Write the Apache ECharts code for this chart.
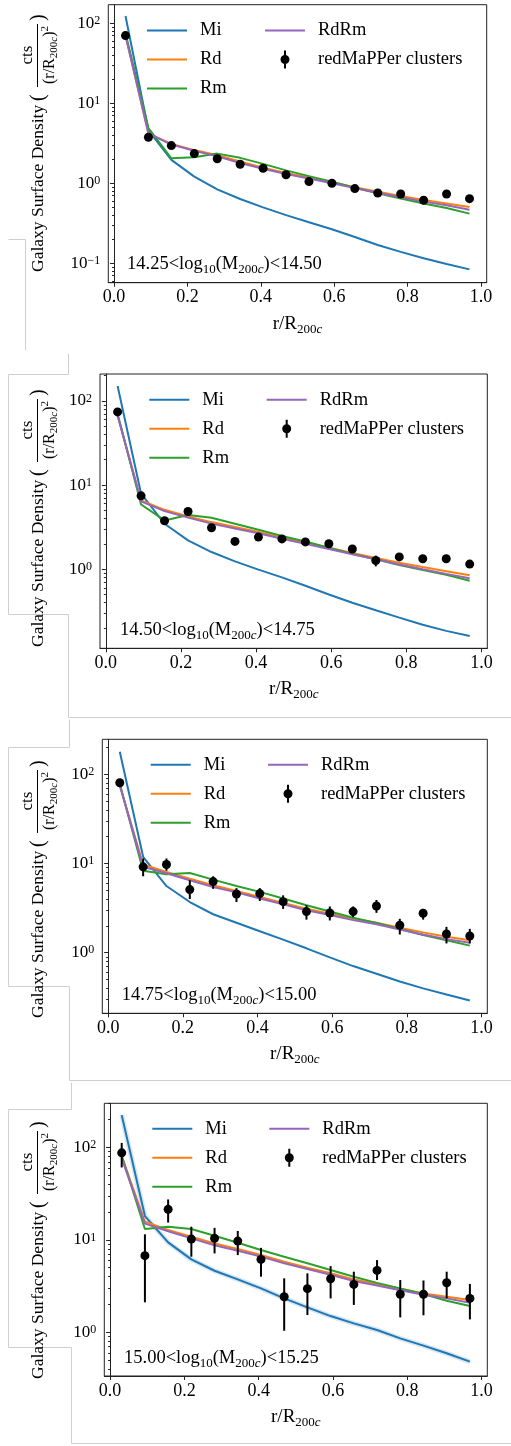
<!DOCTYPE html>
<html><head><meta charset="utf-8">
<script src="https://cdn.jsdelivr.net/npm/echarts@6/dist/echarts.min.js"></script>
<style>html,body{margin:0;padding:0;background:#fff}#c{width:511px;height:1446px}</style>
</head><body><div id="c"></div>
<script>
// ---------------- data ----------------
const xBins = [0.03125, 0.09375, 0.15625, 0.21875, 0.28125, 0.34375, 0.40625, 0.46875, 0.53125, 0.59375, 0.65625, 0.71875, 0.78125, 0.84375, 0.90625, 0.96875];
const xTicks = [0, 0.2, 0.4, 0.6, 0.8, 1.0];
const yTicks = [0.1, 1, 10, 100];
const seriesNames = ['Mi', 'Rd', 'Rm', 'RdRm'];
const obsName = 'redMaPPer clusters';
const binLow = ['14.25', '14.50', '14.75', '15.00'];
const binHigh = ['14.50', '14.75', '15.00', '15.25'];

// panel 1: 14.25 < log M < 14.50
const mi1 = [123.5, 4.6, 1.96, 1.21, 0.84, 0.637, 0.50, 0.40, 0.326, 0.266, 0.213, 0.169, 0.139, 0.1155, 0.098, 0.084];
const rd1 = [72, 4.2, 3.1, 2.6, 2.24, 1.87, 1.57, 1.35, 1.18, 1.03, 0.89, 0.787, 0.695, 0.619, 0.56, 0.506];
const rm1 = [75, 4.9, 2.05, 2.11, 2.35, 2.08, 1.75, 1.45, 1.23, 1.05, 0.88, 0.75, 0.645, 0.56, 0.49, 0.418];
const rdrm1 = [70, 4.2, 3.05, 2.55, 2.17, 1.79, 1.52, 1.31, 1.15, 1.0, 0.87, 0.76, 0.67, 0.59, 0.53, 0.467];
const obs1 = [70.2, 3.76, 2.96, 2.35, 2.03, 1.73, 1.54, 1.28, 1.05, 1.0, 0.858, 0.757, 0.736, 0.613, 0.736, 0.643];
const lo1 = [67, 3.6, 2.83, 2.25, 1.94, 1.65, 1.47, 1.22, 1.0, 0.955, 0.82, 0.72, 0.70, 0.58, 0.70, 0.61];
const hi1 = [73.5, 3.93, 3.1, 2.46, 2.12, 1.81, 1.61, 1.34, 1.1, 1.045, 0.9, 0.795, 0.77, 0.645, 0.77, 0.675];

// panel 2: 14.50 < log M < 14.75
const mi2 = [150.5, 7.9, 3.47, 2.2, 1.60, 1.24, 0.99, 0.80, 0.635, 0.50, 0.40, 0.325, 0.266, 0.219, 0.185, 0.161];
const rd2 = [68, 6.56, 5.08, 4.24, 3.63, 3.17, 2.77, 2.37, 2.07, 1.80, 1.56, 1.36, 1.19, 1.06, 0.946, 0.85];
const rm2 = [70, 5.88, 3.8, 4.4, 4.09, 3.47, 2.94, 2.48, 2.13, 1.80, 1.52, 1.31, 1.12, 0.98, 0.86, 0.73];
const rdrm2 = [66.5, 6.4, 4.9, 4.1, 3.48, 3.05, 2.68, 2.3, 2.0, 1.74, 1.50, 1.31, 1.14, 1.0, 0.88, 0.78];
const obs2 = [74.1, 7.45, 3.77, 4.85, 3.11, 2.14, 2.41, 2.29, 2.11, 2.01, 1.74, 1.27, 1.40, 1.33, 1.33, 1.15];
const lo2 = [70, 6.8, 3.45, 4.45, 2.85, 1.95, 2.22, 2.12, 1.95, 1.86, 1.6, 1.08, 1.3, 1.23, 1.23, 1.06];
const hi2 = [78, 8.1, 4.1, 5.25, 3.37, 2.35, 2.6, 2.46, 2.27, 2.16, 1.88, 1.45, 1.5, 1.43, 1.43, 1.24];

// panel 3: 14.75 < log M < 15.00
const mi3 = [180, 11.9, 5.6, 3.7, 2.7, 2.17, 1.74, 1.40, 1.12, 0.887, 0.708, 0.58, 0.476, 0.398, 0.34, 0.291];
const rd3 = [76, 9.75, 8.05, 6.78, 5.71, 4.93, 4.22, 3.61, 3.12, 2.74, 2.41, 2.17, 1.91, 1.69, 1.51, 1.38];
const rm3 = [78, 8.3, 7.6, 7.85, 6.6, 5.61, 4.81, 4.05, 3.4, 2.9, 2.47, 2.15, 1.84, 1.58, 1.38, 1.2];
const rdrm3 = [75, 9.2, 7.8, 6.5, 5.45, 4.75, 4.05, 3.5, 3.0, 2.65, 2.32, 2.08, 1.82, 1.6, 1.42, 1.29];
const obs3 = [80.6, 9.18, 9.75, 5.1, 6.28, 4.56, 4.6, 3.74, 2.89, 2.79, 2.89, 3.34, 2.03, 2.77, 1.62, 1.54];
const lo3 = [76, 7.2, 8.3, 4.0, 5.2, 3.7, 3.8, 3.1, 2.35, 2.3, 2.5, 2.8, 1.6, 2.35, 1.27, 1.27];
const hi3 = [85, 11.4, 11.4, 6.5, 7.2, 5.3, 5.3, 4.4, 3.4, 3.3, 3.3, 3.9, 2.4, 3.1, 1.95, 1.85];

// panel 4: 15.00 < log M < 15.25
const mi4 = [224, 18.1, 9.4, 6.15, 4.64, 3.74, 2.99, 2.33, 1.86, 1.50, 1.25, 1.06, 0.861, 0.718, 0.593, 0.482];
const rd4 = [80.6, 15.7, 12.8, 10.8, 9.16, 7.96, 6.86, 5.81, 5.0, 4.35, 3.74, 3.33, 2.97, 2.64, 2.43, 2.24];
const rm4 = [82, 13.1, 13.9, 13.1, 11.1, 9.33, 7.77, 6.58, 5.6, 4.72, 4.0, 3.43, 2.99, 2.6, 2.2, 1.93];
const rdrm4 = [76, 15.0, 12.4, 10.4, 8.75, 7.65, 6.6, 5.6, 4.85, 4.2, 3.6, 3.22, 2.85, 2.55, 2.33, 2.09];
const obs4 = [87.5, 6.75, 21.4, 10.2, 10.4, 9.71, 6.15, 2.43, 2.97, 3.80, 3.3, 4.68, 2.58, 2.58, 3.44, 2.33];
const lo4 = [60.8, 2.11, 15.4, 6.58, 7.14, 6.85, 4.0, 1.04, 1.54, 2.33, 1.98, 3.68, 1.45, 1.53, 2.33, 1.38];
const hi4 = [112, 11.5, 27.4, 13.9, 13.5, 12.5, 8.2, 3.84, 4.35, 5.21, 4.53, 6.05, 3.68, 3.64, 4.53, 3.34];

// ---------------- layout / style ----------------
const FONT = "'Liberation Serif', 'DejaVu Serif', serif";
const COLORS = ['#1f77b4', '#ff7f0e', '#2ca02c', '#9467bd'];
const AX = '#222222';
const panelData = [
  {lines: [mi1, rd1, rm1, rdrm1], obs: obs1, lo: lo1, hi: hi1},
  {lines: [mi2, rd2, rm2, rdrm2], obs: obs2, lo: lo2, hi: hi2},
  {lines: [mi3, rd3, rm3, rdrm3], obs: obs3, lo: lo3, hi: hi3},
  {lines: [mi4, rd4, rm4, rdrm4], obs: obs4, lo: lo4, hi: hi4}
];
const layout = [
  {grid: {left: 108.3, top: 4.7, width: 378.4, height: 278}, ymin: 0.0572, ymax: 170.8, leg: [147, 265, 30], ylab: [38, 272], ann: [127, 264], band: false},
  {grid: {left: 100, top: 374, width: 387.3, height: 274.3}, ymin: 0.1148, ymax: 209, leg: [149.3, 266.7, 399.3], ylab: [38, 647], ann: [120, 630], band: false},
  {grid: {left: 102.3, top: 739.3, width: 385, height: 274}, ymin: 0.209, ymax: 247.7, leg: [150.7, 268, 764.3], ylab: [38, 1018], ann: [121.7, 995], band: false},
  {grid: {left: 104.3, top: 1103.3, width: 383, height: 272.7}, ymin: 0.337, ymax: 300.6, leg: [152.3, 269.3, 1128.3], ylab: [38, 1379], ann: [124, 1357.7], band: true}
];

const lineIcon = 'path://M0,0M48,18M0,8h40v2h-40z';
const ebIcon = 'path://M0,0M48,18M20,4.5a4.5,4.5 0 1,1 0,9a4.5,4.5 0 1,1 0,-9zM19,0h2v18h-2z';

const subRich = {
  m: {fontFamily: FONT, fontSize: 18.5, lineHeight: 24, verticalAlign: 'middle', color: '#000'},
  s: {fontFamily: FONT, fontSize: 13, lineHeight: 13, verticalAlign: 'bottom', color: '#000'},
  si: {fontFamily: FONT, fontSize: 13, lineHeight: 13, verticalAlign: 'bottom', fontStyle: 'italic', color: '#000'}
};

const grids = [], xAxes = [], yAxes = [], series = [], legends = [], graphics = [];

layout.forEach((L, gi) => {
  grids.push(Object.assign({show: true, borderColor: AX, borderWidth: 1, backgroundColor: 'transparent', containLabel: false, outerBoundsMode: 'none'}, L.grid));
  xAxes.push({
    type: 'value', gridIndex: gi, min: -0.015625, max: 1.015625,
    axisLine: {show: true, onZero: false, lineStyle: {color: AX, width: 1}},
    axisTick: {show: true, length: 4, lineStyle: {color: AX}, customValues: xTicks},
    axisLabel: {customValues: xTicks, formatter: v => Number(v).toFixed(1), fontFamily: FONT, fontSize: 18, color: '#000', margin: 6},
    splitLine: {show: false},
    name: '{m|r/R}{s|200}{si|c}', nameLocation: 'middle', nameGap: 29,
    nameTextStyle: {fontFamily: FONT, rich: Object.assign({}, subRich, {m: Object.assign({}, subRich.m, {fontSize: 19})})}
  });
  yAxes.push({
    type: 'log', logBase: 10, gridIndex: gi, min: L.ymin, max: L.ymax,
    axisLine: {show: true, lineStyle: {color: AX, width: 1}},
    axisTick: {show: true, length: 4, lineStyle: {color: AX}, customValues: yTicks},
    minorTick: {show: true, splitNumber: 9, length: 2, lineStyle: {color: AX}},
    axisLabel: {
      customValues: yTicks, margin: 8, fontFamily: FONT,
      formatter: v => { const e = Math.round(Math.log10(v)); return '{b|10}{sup|' + (e < 0 ? '\u2212' + (-e) : e) + '}'; },
      rich: {
        b: {fontFamily: FONT, fontSize: 17, lineHeight: 17, verticalAlign: 'bottom', color: '#000'},
        sup: {fontFamily: FONT, fontSize: 12, lineHeight: 12, verticalAlign: 'top', color: '#000'}
      },
      lineHeight: 20
    },
    splitLine: {show: false}, minorSplitLine: {show: false}
  });

  const P = panelData[gi];
  if (L.band) {
    series.push({type: 'line', name: 'Mi band', xAxisIndex: gi, yAxisIndex: gi, data: xBins.map((x, k) => [x, P.lines[0][k]]),
      symbol: 'none', lineStyle: {color: '#1f77b4', width: 5, opacity: 0.18}, silent: true, z: 1});
  }
  P.lines.forEach((arr, si) => {
    series.push({type: 'line', name: seriesNames[si], xAxisIndex: gi, yAxisIndex: gi,
      data: xBins.map((x, k) => [x, arr[k]]), symbol: 'none',
      lineStyle: {color: COLORS[si], width: 2}, itemStyle: {color: COLORS[si]}, silent: true, z: 2});
  });
  series.push({type: 'scatter', name: obsName, xAxisIndex: gi, yAxisIndex: gi,
    data: xBins.map((x, k) => [x, P.obs[k]]), symbolSize: 9, itemStyle: {color: '#000', opacity: 1}, silent: true, z: 5});
  series.push({type: 'custom', name: obsName, xAxisIndex: gi, yAxisIndex: gi,
    data: xBins.map((x, k) => [x, P.lo[k], P.hi[k]]), encode: {x: 0, y: [1, 2]}, silent: true, z: 4,
    itemStyle: {color: '#000'},
    renderItem: (params, api) => {
      const a = api.coord([api.value(0), api.value(1)]);
      const b = api.coord([api.value(0), api.value(2)]);
      return {type: 'line', shape: {x1: a[0], y1: a[1], x2: b[0], y2: b[1]}, style: {stroke: '#000', lineWidth: 2}};
    }});

  const legCommon = {orient: 'vertical', itemWidth: 48, itemHeight: 18, itemGap: 10, selectedMode: false, padding: 0,
    itemStyle: {borderWidth: 0, opacity: 1},
    textStyle: {fontFamily: FONT, fontSize: 18.5, color: '#000', lineHeight: 18, padding: [0, 0, 0, 0]}};
  legends.push(Object.assign({}, legCommon, {left: L.leg[0], top: L.leg[2] - 9,
    data: [{name: 'Mi', icon: lineIcon}, {name: 'Rd', icon: lineIcon}, {name: 'Rm', icon: lineIcon}]}));
  legends.push(Object.assign({}, legCommon, {left: L.leg[1], top: L.leg[2] - 9,
    data: [{name: 'RdRm', icon: lineIcon}, {name: obsName, icon: ebIcon}]}));

  // annotation text
  graphics.push({type: 'text', x: L.ann[0], y: L.ann[1], silent: true,
    style: {text: '{m|' + binLow[gi] + '<log}{s|10}{m|(M}{s|200}{si|c}{m|)<' + binHigh[gi] + '}', rich: subRich,
      fontFamily: FONT, fill: '#000', align: 'left', verticalAlign: 'middle'}});

  // rotated y-axis label with fraction
  graphics.push({type: 'group', x: L.ylab[0], y: L.ylab[1], rotation: Math.PI / 2, silent: true, children: [
    {type: 'text', x: 0, y: 0, style: {text: 'Galaxy Surface Density', fontFamily: FONT, fontSize: 17.5, fill: '#000', align: 'left', verticalAlign: 'middle'}},
    {type: 'text', x: 171, y: 1, style: {text: '(', fontFamily: FONT, fontSize: 20, fill: '#000', align: 'left', verticalAlign: 'middle'}},
    {type: 'text', x: 217, y: -10, style: {text: 'cts', fontFamily: FONT, fontSize: 17, fill: '#000', align: 'center', verticalAlign: 'middle'}},
    {type: 'line', shape: {x1: 185, y1: -0.5, x2: 248, y2: -0.5}, style: {stroke: '#000', lineWidth: 1}},
    {type: 'text', x: 217, y: 12, style: {text: '{m|(r/R}{s|200}{si|c}{m|)}{p|2}', fontFamily: FONT, fill: '#000', align: 'center', verticalAlign: 'middle',
      rich: {
        m: {fontFamily: FONT, fontSize: 16, lineHeight: 20, verticalAlign: 'middle'},
        s: {fontFamily: FONT, fontSize: 11, lineHeight: 11, verticalAlign: 'bottom'},
        si: {fontFamily: FONT, fontSize: 11, lineHeight: 11, verticalAlign: 'bottom', fontStyle: 'italic'},
        p: {fontFamily: FONT, fontSize: 11, lineHeight: 11, verticalAlign: 'top'}
      }}},
    {type: 'text', x: 251, y: 1, style: {text: ')', fontFamily: FONT, fontSize: 20, fill: '#000', align: 'left', verticalAlign: 'middle'}}
  ]});
});

// light grey frame fragments of the composed image
const frameLines = [
  [[8, 239], [25, 239], [25, 350]],
  [[68, 353], [68, 374], [8, 374], [8, 614], [68, 614], [68, 717], [511, 717]],
  [[69, 719], [69, 747], [8, 747], [8, 986], [69, 986], [69, 1080], [511, 1080]],
  [[71, 1082], [71, 1109], [8, 1109], [8, 1347], [71, 1347], [71, 1443], [511, 1443]]
];
frameLines.forEach(pts => {
  graphics.push({type: 'polyline', silent: true, z: -1,
    shape: {points: pts.map(p => [p[0] + 0.5, p[1] + 0.5])},
    style: {stroke: '#cfcfcf', lineWidth: 1, fill: null}});
});

const chart = echarts.init(document.getElementById('c'), null, {renderer: 'canvas'});
chart.setOption({
  animation: false,
  backgroundColor: '#ffffff',
  textStyle: {fontFamily: FONT},
  grid: grids, xAxis: xAxes, yAxis: yAxes, series: series, legend: legends, graphic: graphics
});
</script></body></html>
